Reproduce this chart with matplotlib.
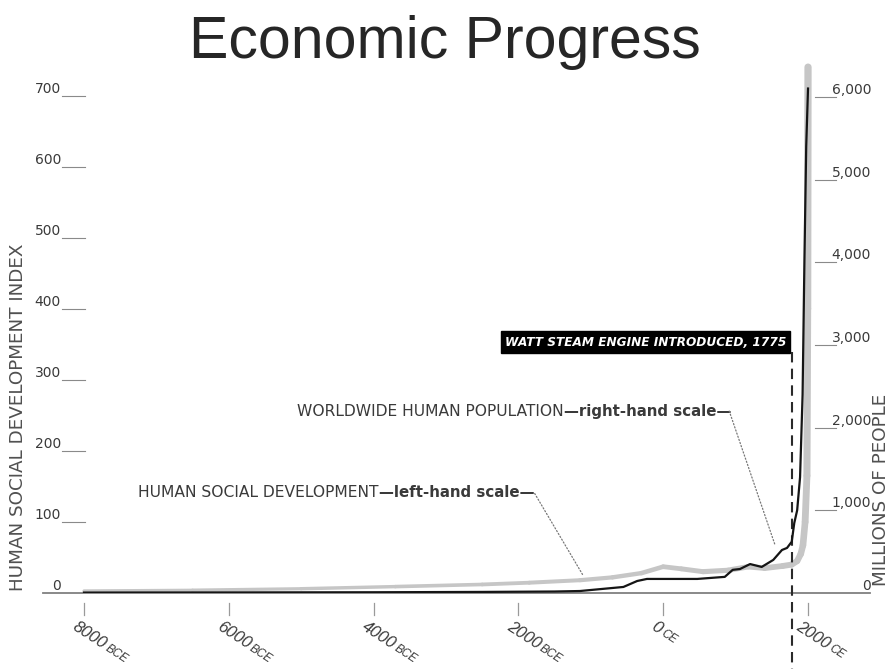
"""
Economic progress: human social development vs. world population
"""

import numpy as np
import matplotlib
matplotlib.use("Agg")
import matplotlib.pyplot as plt
from matplotlib.collections import LineCollection
from matplotlib.font_manager import FontProperties
from matplotlib.textpath import TextToPath

# Human social development index (left-hand scale)
sd_years = [-8000, -6500, -5000, -3700, -2500, -1850, -1150, -700, -300, 0,
            250, 550, 900, 1175, 1400, 1650, 1775, 1850, 1900, 1930, 1960,
            1985, 1995, 2000]
sd_index = [3, 4, 6, 9, 12, 14.5, 18, 22, 28, 37, 34, 30, 32, 37, 35, 38, 40,
            45, 55, 67, 100, 165, 400, 740]

# Worldwide human population, millions (right-hand scale)
pop_years = [-8000, -6000, -4000, -2500, -1500, -1150, -550, -360, -225, 100,
             470, 850, 960, 1060, 1200, 1360, 1520, 1640, 1710, 1775, 1810,
             1850, 1890, 1925, 1950, 1975, 2000]
pop_millions = [5, 7, 9, 13, 18, 24, 73, 145, 170, 170, 170, 195, 280, 290,
                350, 315, 400, 520, 545, 620, 846, 1000, 1400, 2400, 4000,
                5400, 6100]

left_ticks = [0, 100, 200, 300, 400, 500, 600, 700]
right_ticks = [0, 1000, 2000, 3000, 4000, 5000, 6000]
right_labels = ["0", "1,000", "2,000", "3,000", "4,000", "5,000", "6,000"]
x_ticks = [-8000, -6000, -4000, -2000, 0, 2000]
x_numbers = ["8000", "6000", "4000", "2000", "0", "2000"]
x_eras = ["BCE", "BCE", "BCE", "BCE", "CE", "CE"]

watt_year = 1775

W, H = 890, 669
TEXT = "#3a3a3a"
PT = 0.72  # points per pixel at 100 dpi


def ax_x(px):
    """Horizontal pixel -> axes fraction."""
    return (px - 65) / (870 - 65)


def ax_y(px):
    """Vertical pixel (from top) -> axes fraction."""
    return (593 - px) / (593 - 60)


def draw_date_labels(ax):
    """Rotated era labels: large year, small era suffix."""
    xtr = ax.get_xaxis_transform()
    num_fp = FontProperties(family="Liberation Sans", style="italic", size=12)
    era_fp = FontProperties(family="Liberation Sans", style="italic", size=8.5)
    angle = -33
    ux, uy = np.cos(np.radians(angle)), np.sin(np.radians(angle))
    t2p = TextToPath()
    for yr, num, era in zip(x_ticks, x_numbers, x_eras):
        ax.plot([yr, yr], [ax_y(603), ax_y(615)], transform=xtr,
                color="#9a9a9a", lw=0.9, clip_on=False)
        x0, y0 = -12.5 * PT, 0
        ax.annotate(num, xy=(yr, ax_y(629)), xycoords=xtr,
                    xytext=(x0, y0), textcoords="offset points",
                    rotation=angle, rotation_mode="anchor", ha="left",
                    va="baseline", fontproperties=num_fp, color=TEXT)
        w = t2p.get_text_width_height_descent(num, num_fp, ismath=False)[0]
        step = w + 1.5
        ax.annotate(era, xy=(yr, ax_y(629)), xycoords=xtr,
                    xytext=(x0 + step * ux, y0 + step * uy),
                    textcoords="offset points", rotation=angle,
                    rotation_mode="anchor", ha="left", va="baseline",
                    fontproperties=era_fp, color=TEXT)


def main():
    fig = plt.figure(figsize=(W / 100, H / 100), dpi=100)
    ax = fig.add_axes([65 / W, 1 - 593 / H, (870 - 65) / W, (593 - 60) / H])
    ax.set_xlim(-8262, 2856)
    ax.set_ylim(0, 750)
    ax2 = ax.twinx()
    ax2.set_ylim(0, 6445)

    for a in (ax, ax2):
        for s in a.spines.values():
            s.set_visible(False)
        a.set_xticks([])
        a.set_yticks([])

    # baseline
    ax.plot([ax_x(43), 1.0], [0, 0], transform=ax.get_yaxis_transform(),
            color="#808080", lw=1.3, clip_on=False, zorder=1)

    # left scale
    ytr = ax.get_yaxis_transform()
    for v in left_ticks:
        if v:
            ax.plot([ax_x(62), ax_x(85)], [v, v], transform=ytr,
                    color="#8a8a8a", lw=0.8, clip_on=False)
        ax.text(ax_x(61), v, str(v), transform=ytr, ha="right", va="bottom",
                fontsize=10, color=TEXT)

    # right scale
    ytr2 = ax2.get_yaxis_transform()
    for v, lab in zip(right_ticks, right_labels):
        if v:
            ax2.plot([ax_x(815), ax_x(836)], [v, v], transform=ytr2,
                     color="#8a8a8a", lw=0.8, clip_on=False)
        ax2.text(ax_x(871), v, lab, transform=ytr2, ha="right", va="bottom",
                 fontsize=10, color=TEXT)

    draw_date_labels(ax)

    # social development: grey band that thickens over time
    pts = np.column_stack([sd_years, sd_index])
    segs = np.stack([pts[:-1], pts[1:]], axis=1)
    widths = np.linspace(2.2, 5.2, len(segs))
    band = LineCollection(segs, linewidths=widths, colors="#c6c6c6",
                          capstyle="round", joinstyle="round", zorder=2)
    ax.add_collection(band)

    # population
    ax2.plot(pop_years, pop_millions, color="#151515", lw=1.6, zorder=3)

    # steam engine marker
    ax.plot([watt_year, watt_year], [339, -107], color="#2a2a2a", lw=1.5,
            ls=(0, (5, 3)), clip_on=False, zorder=4)
    ax.annotate("WATT STEAM ENGINE INTRODUCED, 1775", xy=(watt_year, 353),
                xytext=(-4, 0), textcoords="offset points",
                ha="right", va="center", color="white", fontsize=8.7,
                fontweight="bold", style="italic",
                bbox=dict(boxstyle="square,pad=0.35", fc="black", ec="black"))

    # series labels with leaders
    t1 = ax.text(-5058, 249, "WORLDWIDE HUMAN POPULATION", fontsize=11.2,
                 color=TEXT, va="baseline", ha="left")
    ax.annotate("\u2014right-hand scale\u2014", xy=(1, 0), xycoords=t1,
                va="bottom", ha="left", fontsize=10.8, color=TEXT,
                fontweight="bold")
    ax.annotate("", xy=(1543, 68), xytext=(912, 256),
                arrowprops=dict(arrowstyle="-", ls=":", color="#777777",
                                lw=0.9, shrinkA=0, shrinkB=0))

    t2 = ax.text(-7250, 135, "HUMAN SOCIAL DEVELOPMENT", fontsize=11.2,
                 color=TEXT, va="baseline", ha="left")
    ax.annotate("\u2014left-hand scale\u2014", xy=(1, 0), xycoords=t2,
                va="bottom", ha="left", fontsize=10.8, color=TEXT,
                fontweight="bold")
    ax.annotate("", xy=(-1108, 25), xytext=(-1775, 140),
                arrowprops=dict(arrowstyle="-", ls=":", color="#777777",
                                lw=0.9, shrinkA=0, shrinkB=0))

    # axis titles
    fig.text(18 / W, 1 - 417 / H, "HUMAN SOCIAL DEVELOPMENT INDEX",
             rotation=90, ha="center", va="center", fontsize=13.2,
             color="#505050")
    fig.text(881 / W, 1 - 490 / H, "MILLIONS OF PEOPLE", rotation=90,
             ha="center", va="center", fontsize=13.2, color="#505050")

    fig.text(0.5, 1 - 42 / H, "Economic Progress", ha="center", va="center",
             fontsize=42.5, family="Liberation Sans", color="#262626")

    fig.savefig("out.png", dpi=100)


if __name__ == "__main__":
    main()
